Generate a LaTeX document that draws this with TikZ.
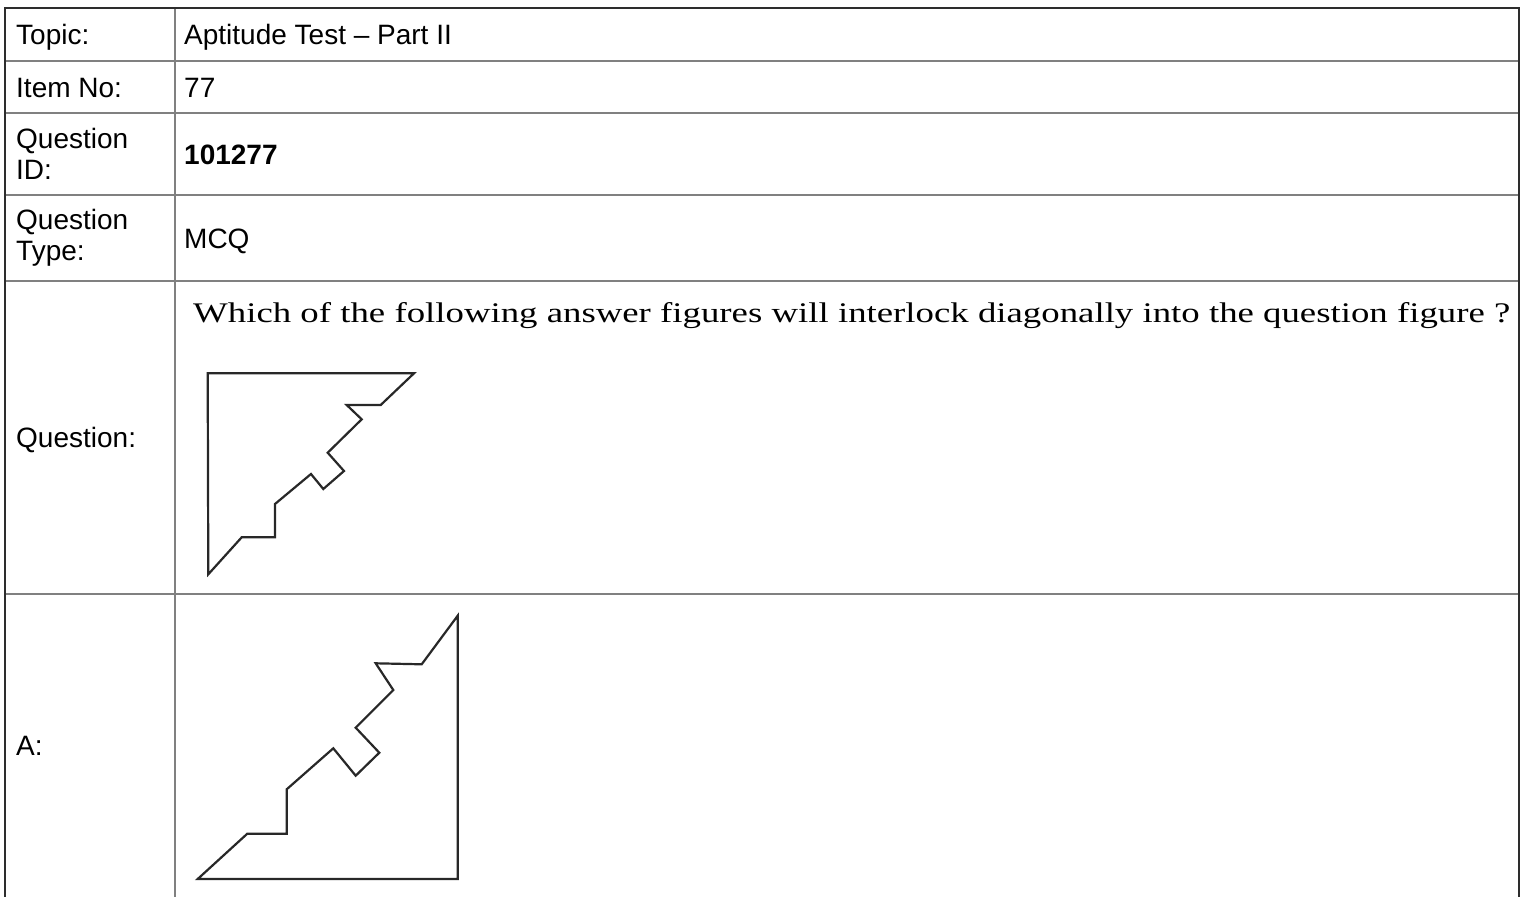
\documentclass[tikz,border=0pt]{standalone}
\usepackage{fontspec}
\usepackage{graphicx}
\setmainfont{Liberation Sans}
\newfontfamily\qfont{Liberation Serif}

\begin{document}
\begin{tikzpicture}[x=1pt,y=-1pt]
\definecolor{framegray}{RGB}{45,45,45}
\definecolor{rulegray}{RGB}{128,128,128}
\definecolor{piecegray}{RGB}{40,40,40}
\tikzset{
  cell/.style={font=\fontsize{28}{31}\selectfont, anchor=base west, inner sep=0pt},
  cell2/.style={font=\fontsize{28}{31}\selectfont, anchor=west, align=left, inner sep=0pt},
  rule/.style={rulegray, line width=2pt},
  frame/.style={framegray, line width=2.5pt},
  piece/.style={piecegray, line width=2.2pt, line join=miter}
}
\useasboundingbox (0,0) rectangle (1524,897);
\foreach \y in {61,113,195,281,594}
  \draw[rule] (5,\y) -- (1519,\y);
\draw[rule] (175,8) -- (175,900);
\draw[frame] (5,900) -- (5,8) -- (1519,8) -- (1519,900);
\node[cell] (topic) at (16,44.5) {Topic:};
\node[cell] (topicval) at (184,44.5) {Aptitude Test – Part II};
\node[cell] (item) at (16,97) {Item No:};
\node[cell] (itemval) at (184,97) {77};
\node[cell2] (qid) at (16,154) {Question\\ID:};
\node[cell] (qidval) at (184,164) {\bfseries 101277};
\node[cell2] (qtype) at (16,238) {Question\\Type:};
\node[cell] (qtypeval) at (184,248) {MCQ};
\node[cell] (question) at (16,447) {Question:};
\node[anchor=base west, inner sep=0pt] (qtext) at (193,322)
  {\resizebox{1317pt}{20pt}{\qfont\fontsize{29}{32}\selectfont Which of the following answer figures will interlock diagonally into the question figure ?}};
\draw[piece] (207.7,373.3) -- (414,373.3) -- (380.7,405) -- (346.7,405) -- (361.7,419.3)
  -- (327.7,452.7) -- (344,471) -- (323.3,489) -- (311,474) -- (275,504) -- (275,537.3)
  -- (241.7,537.3) -- (208.3,574.3) -- cycle;
\node[cell] (optA) at (16,755) {A:};
\draw[piece] (457.7,615.7) -- (457.7,879) -- (197.7,879) -- (247.3,833.7) -- (286.7,833.7)
  -- (286.7,789.3) -- (333.3,748.3) -- (355.7,775.7) -- (379.3,752.7) -- (355.7,727.7)
  -- (393.3,690) -- (375.7,663.3) -- (421.7,664.3) -- cycle;
\end{tikzpicture}
\end{document}
